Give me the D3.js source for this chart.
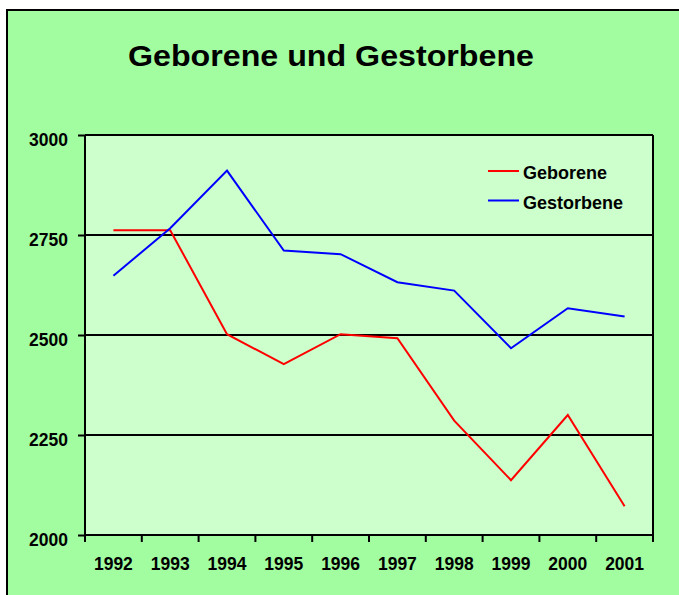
<!DOCTYPE html>
<html>
<head>
<meta charset="utf-8">
<script src="https://cdn.jsdelivr.net/npm/d3@7"></script>
<style>
  body { margin: 0; background: #fff; }
  svg { display: block; font-family: "Liberation Sans", Arial, sans-serif; }
</style>
</head>
<body>
<figure id="chart" style="margin:0"></figure>
<script>
// data
const years = ["1992", "1993", "1994", "1995", "1996", "1997", "1998", "1999", "2000", "2001"];
const geborene = [2762, 2762, 2502, 2427, 2502, 2492, 2286, 2137, 2300, 2072];
const gestorbene = [2648, 2767, 2911, 2711, 2702, 2632, 2611, 2467, 2567, 2546];
const yTicks = [2000, 2250, 2500, 2750, 3000];
const seriesNames = ["Geborene", "Gestorbene"];

const width = 679, height = 595;
const plot = { left: 85, top: 135, right: 653, bottom: 535 };
const font = "Liberation Sans, Arial, sans-serif";

const svg = d3.select("#chart")
  .append("svg")
  .attr("width", width)
  .attr("height", height);

// outer chart area
svg.append("rect")
  .attr("x", 7).attr("y", 10)
  .attr("width", width + 10).attr("height", height + 10)
  .attr("fill", "#a2fda0")
  .attr("stroke", "#000")
  .attr("stroke-width", 2);

// title
svg.append("text")
  .attr("x", 128).attr("y", 66)
  .attr("textLength", 406)
  .attr("lengthAdjust", "spacingAndGlyphs")
  .style("font-size", "30px")
  .style("font-weight", "bold")
  .text("Geborene und Gestorbene");

const x = d3.scaleBand()
  .domain(years)
  .range([plot.left, plot.right]);

const y = d3.scaleLinear()
  .domain([2000, 3000])
  .range([plot.bottom, plot.top]);

// plot background
svg.append("rect")
  .attr("x", plot.left).attr("y", plot.top)
  .attr("width", plot.right - plot.left)
  .attr("height", plot.bottom - plot.top)
  .attr("fill", "#ccffcc");

// gridlines
svg.append("g")
  .selectAll("line")
  .data(yTicks)
  .enter()
  .append("line")
  .attr("x1", plot.left).attr("x2", plot.right)
  .attr("y1", d => y(d)).attr("y2", d => y(d))
  .attr("stroke", "#000")
  .attr("stroke-width", 2);

// right border
svg.append("line")
  .attr("x1", plot.right).attr("x2", plot.right)
  .attr("y1", plot.top).attr("y2", plot.bottom)
  .attr("stroke", "#000")
  .attr("stroke-width", 2);

// y axis
const yAxis = svg.append("g")
  .attr("transform", "translate(" + plot.left + ",0)")
  .call(d3.axisLeft(y).tickValues(yTicks).tickFormat(d3.format("d")).tickSize(7).tickPadding(10));
yAxis.selectAll("path, line").attr("stroke", "#000").attr("stroke-width", 2);
yAxis.select(".domain").attr("d", "M0," + plot.top + "V" + plot.bottom);
yAxis.selectAll("text")
  .attr("dy", "0.6em")
  .attr("fill", "#000")
  .attr("font-family", font)
  .style("font-size", "17.5px")
  .style("font-weight", "bold");

// x axis, ticks between categories
const xAxis = svg.append("g")
  .attr("transform", "translate(0," + plot.bottom + ")");
xAxis.append("line")
  .attr("x1", plot.left).attr("x2", plot.right)
  .attr("stroke", "#000").attr("stroke-width", 2);
xAxis.selectAll("line.tick")
  .data(years.concat(["end"]))
  .enter()
  .append("line")
  .attr("class", "tick")
  .attr("x1", (d, i) => i < years.length ? x(d) : plot.right)
  .attr("x2", (d, i) => i < years.length ? x(d) : plot.right)
  .attr("y1", 0).attr("y2", 7)
  .attr("stroke", "#000").attr("stroke-width", 2);
xAxis.selectAll("text")
  .data(years)
  .enter()
  .append("text")
  .attr("x", d => x(d) + x.bandwidth() / 2)
  .attr("y", 35)
  .attr("text-anchor", "middle")
  .style("font-size", "17.5px")
  .style("font-weight", "bold")
  .text(d => d);

// lines
const line = d3.line()
  .x((d, i) => x(years[i]) + x.bandwidth() / 2)
  .y(d => y(d));

const colors = ["#ff0000", "#0000ff"];
[geborene, gestorbene].forEach((s, i) => {
  svg.append("path")
    .datum(s)
    .attr("d", line)
    .attr("fill", "none")
    .attr("stroke", colors[i])
    .attr("stroke-width", 2);
});

// legend
const legend = svg.append("g");
seriesNames.forEach((name, i) => {
  const ly = 171 + i * 29.5;
  legend.append("line")
    .attr("x1", 488).attr("x2", 519)
    .attr("y1", ly).attr("y2", ly)
    .attr("stroke", colors[i])
    .attr("stroke-width", 2);
  legend.append("text")
    .attr("x", 523).attr("y", ly + 8)
    .style("font-size", "18px")
    .style("font-weight", "bold")
    .text(name);
});
</script>
</body>
</html>
